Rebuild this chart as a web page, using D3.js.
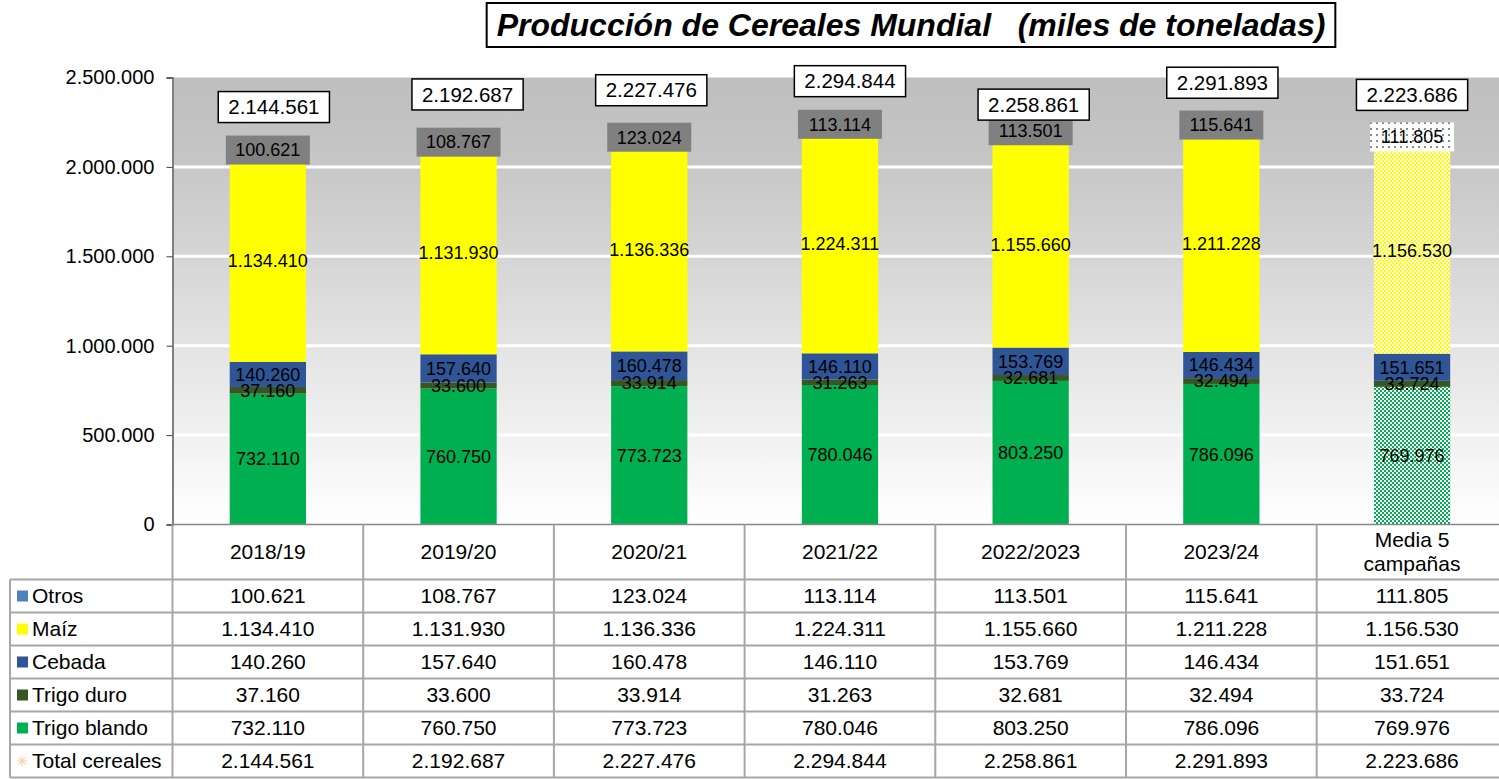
<!DOCTYPE html>
<html>
<head>
<meta charset="utf-8">
<script src="https://cdn.jsdelivr.net/npm/d3@7"></script>
<style>
  body { margin: 0; background: #fff; }
  svg { display: block; font-family: "Liberation Sans", Arial, sans-serif; }
</style>
</head>
<body>
<script>
// datos (miles de toneladas)
var categories = ["2018/19", "2019/20", "2020/21", "2021/22", "2022/2023", "2023/24", "Media 5 campañas"];
var otros       = [100621, 108767, 123024, 113114, 113501, 115641, 111805];
var maiz        = [1134410, 1131930, 1136336, 1224311, 1155660, 1211228, 1156530];
var cebada      = [140260, 157640, 160478, 146110, 153769, 146434, 151651];
var trigoDuro   = [37160, 33600, 33914, 31263, 32681, 32494, 33724];
var trigoBlando = [732110, 760750, 773723, 780046, 803250, 786096, 769976];
var totales     = [2144561, 2192687, 2227476, 2294844, 2258861, 2291893, 2223686];
var yTicks = [0, 500000, 1000000, 1500000, 2000000, 2500000];

// desplazamientos manuales de las etiquetas de total (como en la hoja original)
var totalDx = [6, 9, 2, 10, 3, 1, 0];
var totalDy = [-34, -38, -36, -33, -16, -32, -32];

var W = 1499, H = 779;
var es = d3.formatLocale({ decimal: ",", thousands: ".", grouping: [3], currency: ["", "€"] });
var fmt = es.format(",d");

var series = [
  { key: "trigoBlando", name: "Trigo blando", values: trigoBlando, color: "#00b050", pattern: "checkGreen" },
  { key: "trigoDuro", name: "Trigo duro", values: trigoDuro, color: "#375623" },
  { key: "cebada", name: "Cebada", values: cebada, color: "#2f5597" },
  { key: "maiz", name: "Maíz", values: maiz, color: "#ffff00", pattern: "checkYellow" },
  { key: "otros", name: "Otros", values: otros, color: "#4f81bd" }
];

var rows = [
  { name: "Otros", values: otros, color: "#4f81bd" },
  { name: "Maíz", values: maiz, color: "#ffff00" },
  { name: "Cebada", values: cebada, color: "#2f5597" },
  { name: "Trigo duro", values: trigoDuro, color: "#375623" },
  { name: "Trigo blando", values: trigoBlando, color: "#00b050" },
  { name: "Total cereales", values: totales, star: true }
];

var table = categories.map(function (c, i) {
  var o = { cat: c };
  series.forEach(function (s) { o[s.key] = s.values[i]; });
  return o;
});

var svg = d3.select("body").append("svg").attr("width", W).attr("height", H);
var defs = svg.append("defs");

var plotLeft = 172.5, step = 190.7, plotTop = 77.5, plotBottom = 524.5;
var x = d3.scaleBand().domain(categories)
    .range([plotLeft, plotLeft + step * categories.length])
    .paddingInner(0.6).paddingOuter(0.3);
var y = d3.scaleLinear().domain([0, 2500000]).range([plotBottom, plotTop]);

// fondo degradado del área de trazado
var grad = defs.append("linearGradient").attr("id", "bg").attr("x1", 0).attr("y1", 0).attr("x2", 0).attr("y2", 1);
grad.append("stop").attr("offset", "0%").attr("stop-color", "#bfbfbf");
grad.append("stop").attr("offset", "15%").attr("stop-color", "#c4c4c4");
grad.append("stop").attr("offset", "100%").attr("stop-color", "#ffffff");

function checker(id, color) {
  var p = defs.append("pattern").attr("id", id).attr("patternUnits", "userSpaceOnUse")
    .attr("width", 4).attr("height", 4);
  p.append("rect").attr("width", 4).attr("height", 4).attr("fill", color);
  p.append("rect").attr("width", 2).attr("height", 2).attr("fill", "#fff");
  p.append("rect").attr("x", 2).attr("y", 2).attr("width", 2).attr("height", 2).attr("fill", "#fff");
}
checker("checkGreen", "#00b050");
checker("checkYellow", "#ffff00");
var dots = defs.append("pattern").attr("id", "dots").attr("patternUnits", "userSpaceOnUse")
  .attr("width", 6).attr("height", 6);
dots.append("rect").attr("width", 6).attr("height", 6).attr("fill", "#fff");
dots.append("rect").attr("x", 2).attr("y", 2).attr("width", 2).attr("height", 2).attr("fill", "#8c8c8c");

svg.append("rect").attr("x", plotLeft).attr("y", plotTop).attr("width", W - plotLeft).attr("height", plotBottom - plotTop)
  .attr("fill", "url(#bg)");

// rejilla
svg.append("g").selectAll("line").data(yTicks.filter(function (d) { return d > 0 && d < 2500000; }))
  .join("line")
  .attr("x1", plotLeft).attr("x2", W)
  .attr("y1", function (d) { return y(d); }).attr("y2", function (d) { return y(d); })
  .attr("stroke", "#fff").attr("stroke-width", 3);

// barras apiladas
var stacked = d3.stack().keys(series.map(function (s) { return s.key; }))(table);
var isMedia = function (i) { return i === categories.length - 1; };

var layers = svg.append("g").selectAll("g").data(stacked).join("g");
layers.selectAll("rect").data(function (d) { return d.map(function (v, i) { return { v: v, i: i, s: series[d.index] }; }); })
  .join("rect")
  .attr("x", function (d) { return x(d.v.data.cat); })
  .attr("width", x.bandwidth())
  .attr("y", function (d) { return y(d.v[1]); })
  .attr("height", function (d) { return y(d.v[0]) - y(d.v[1]); })
  .attr("fill", function (d) { return isMedia(d.i) && d.s.pattern ? "url(#" + d.s.pattern + ")" : d.s.color; });

// marcador del total (asterisco)
function star(g, cx, cy, r) {
  [0, 45, 90, 135].forEach(function (a) {
    var rad = a * Math.PI / 180;
    g.append("line")
      .attr("x1", cx - r * Math.cos(rad)).attr("y1", cy - r * Math.sin(rad))
      .attr("x2", cx + r * Math.cos(rad)).attr("y2", cy + r * Math.sin(rad))
      .attr("stroke", "#f9c98d").attr("stroke-width", 1);
  });
}
var stars = svg.append("g");
totales.forEach(function (t, i) {
  star(stars, x(categories[i]) + x.bandwidth() / 2, y(t), 5);
});

// etiquetas de segmentos
var labels = svg.append("g").attr("font-size", 18).attr("text-anchor", "middle").attr("fill", "#000");
stacked.forEach(function (layer, li) {
  var s = series[li];
  layer.forEach(function (v, i) {
    var cx = x(v.data.cat) + x.bandwidth() / 2;
    var cy = (y(v[0]) + y(v[1])) / 2;
    if (s.key === "otros") {
      labels.append("rect").attr("x", cx - 42).attr("y", cy - 14.5).attr("width", 84).attr("height", 29)
        .attr("fill", isMedia(i) ? "url(#dots)" : "#808080");
    }
    labels.append("text").attr("x", cx).attr("y", cy).attr("dy", "0.35em").text(fmt(v.data[s.key]));
  });
});

// etiquetas de total
var tl = svg.append("g");
totales.forEach(function (t, i) {
  var cx = x(categories[i]) + x.bandwidth() / 2 + totalDx[i];
  var cy = y(t) + totalDy[i];
  var g = tl.append("g");
  var box = g.append("rect");
  var txt = g.append("text").attr("x", cx).attr("y", cy).attr("dy", "0.35em")
    .attr("text-anchor", "middle").attr("font-size", 20.5).text(fmt(t));
  var w = txt.node().getComputedTextLength() + 20;
  box.attr("x", cx - w / 2).attr("y", cy - 15.5).attr("width", w).attr("height", 31)
    .attr("fill", "#fff").attr("stroke", "#000").attr("stroke-width", 1.5);
});

// eje Y
var yAxis = svg.append("g").attr("transform", "translate(" + plotLeft + ",0)")
  .call(d3.axisLeft(y).tickValues(yTicks).tickSize(6).tickPadding(12)
    .tickFormat(function (d) { return fmt(d); }));
yAxis.select(".domain").attr("stroke", "#7f7f7f").attr("stroke-width", 2);
yAxis.selectAll(".tick line").attr("stroke", "#404040");
yAxis.selectAll("text").attr("font-size", 20).attr("font-family", "Liberation Sans, Arial, sans-serif").attr("fill", "#000");

svg.append("line").attr("x1", plotLeft).attr("x2", W).attr("y1", plotBottom).attr("y2", plotBottom)
  .attr("stroke", "#868686").attr("stroke-width", 1.5);

// tabla de datos
var rowTop = 579.5, rowH = 33, tableLeft = 10;
var grid = svg.append("g").attr("stroke", "#a6a6a6").attr("stroke-width", 2);
d3.range(rows.length + 1).forEach(function (r) {
  grid.append("line").attr("x1", tableLeft).attr("x2", W)
    .attr("y1", rowTop + r * rowH).attr("y2", rowTop + r * rowH);
});
grid.append("line").attr("x1", tableLeft).attr("x2", tableLeft)
  .attr("y1", rowTop).attr("y2", rowTop + rows.length * rowH);
d3.range(categories.length + 1).forEach(function (c) {
  var xx = plotLeft + c * step;
  grid.append("line").attr("x1", xx).attr("x2", xx).attr("y1", plotBottom).attr("y2", rowTop + rows.length * rowH);
});

var tt = svg.append("g").attr("font-size", 21).attr("fill", "#000");
categories.forEach(function (c, i) {
  var cx = plotLeft + (i + 0.5) * step;
  if (c === "Media 5 campañas") {
    tt.append("text").attr("x", cx).attr("y", 540).attr("dy", "0.35em").attr("text-anchor", "middle").text("Media 5");
    tt.append("text").attr("x", cx).attr("y", 564).attr("dy", "0.35em").attr("text-anchor", "middle").text("campañas");
  } else {
    tt.append("text").attr("x", cx).attr("y", 552).attr("dy", "0.35em").attr("text-anchor", "middle").text(c);
  }
});
rows.forEach(function (r, ri) {
  var cy = rowTop + ri * rowH + rowH / 2;
  if (r.star) {
    star(tt, 22, cy, 5);
  } else {
    tt.append("rect").attr("x", 17).attr("y", cy - 5.5).attr("width", 11).attr("height", 11).attr("fill", r.color);
  }
  tt.append("text").attr("x", 32).attr("y", cy).attr("dy", "0.35em").text(r.name);
  r.values.forEach(function (v, i) {
    tt.append("text").attr("x", plotLeft + (i + 0.5) * step).attr("y", cy).attr("dy", "0.35em")
      .attr("text-anchor", "middle").text(fmt(v));
  });
});

// título
var title = svg.append("g");
var tbox = title.append("rect");
var ttxt = title.append("text").attr("x", 911).attr("y", 25).attr("dy", "0.35em").attr("text-anchor", "middle")
  .attr("font-size", 32).attr("font-weight", "bold").attr("font-style", "italic")
  .attr("xml:space", "preserve").style("white-space", "pre")
  .text("Producción de Cereales Mundial   (miles de toneladas)");
var tw = ttxt.node().getComputedTextLength() + 20;
tbox.attr("x", 911 - tw / 2).attr("y", 3).attr("width", tw).attr("height", 44)
  .attr("fill", "#fff").attr("stroke", "#000").attr("stroke-width", 2);
</script>
</body>
</html>
